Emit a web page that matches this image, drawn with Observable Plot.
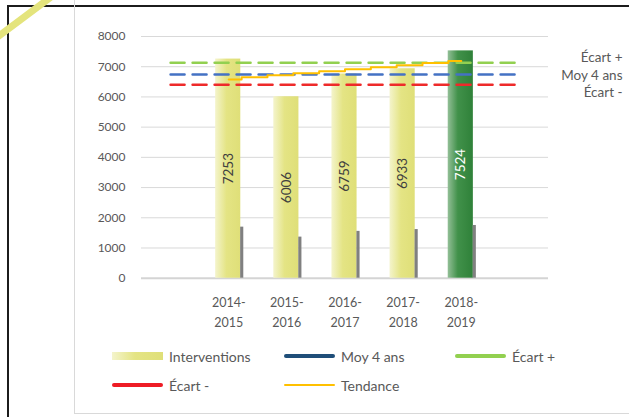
<!DOCTYPE html>
<html><head><meta charset="utf-8">
<script src="https://cdn.jsdelivr.net/npm/d3@7"></script>
<script src="https://cdn.jsdelivr.net/npm/@observablehq/plot@0.6"></script>
<style>
body{margin:0;background:#fff;}
#wrap{position:relative;width:629px;height:417px;overflow:hidden;background:#fff;font-family:Lato,sans-serif;}
#outer{position:absolute;left:7px;top:5px;width:700px;height:500px;border:2px solid #1c1c1c;box-sizing:border-box;}
#inner{position:absolute;left:74px;top:0;width:700px;height:414px;border-left:1.5px solid #d9d9d9;border-bottom:1.5px solid #d9d9d9;box-sizing:border-box;}
#chart{position:absolute;left:0;top:0;}
#legend{position:absolute;left:0;top:340px;width:629px;height:77px;}
#legend .it{position:absolute;height:20px;display:flex;align-items:center;font-size:14px;color:#595959;white-space:nowrap;}
#legend .sw{width:51px;margin-right:6px;border-radius:2px;}
#deco{position:absolute;left:0;top:0;pointer-events:none;}
</style>
</head><body>
<div id="wrap">
  <div id="outer"></div>
  <div id="inner"></div>
  <div id="chart"></div>
  <div id="legend"></div>
  <svg id="deco" width="629" height="417"><line x1="-6" y1="39.5" x2="53" y2="-4.5" stroke="#e4e47c" stroke-width="7"/></svg>
</div>
<script>
// ---- data ----
const categories = ["", "2014-2015", "2015-2016", "2016-2017", "2017-2018", "2018-2019", ""];
const interventions = [7253, 6006, 6759, 6933, 7524];
const secondaire = [1690, 1360, 1550, 1610, 1745];
const moy4ans = 6740;
const ecartPlus = 7130;
const ecartMoins = 6400;
const tendance = [6580, 6650, 6715, 6780, 6850, 6915, 6985, 7050, 7120, 7185];
const yTicks = [0, 1000, 2000, 3000, 4000, 5000, 6000, 7000, 8000];
const seriesNames = ["Écart +", "Moy 4 ans", "Écart -"];

// ---- tables ----
const bars = interventions.map((v, i) => ({slot: i + 1, cat: categories[i + 1], v, s: secondaire[i], last: i === interventions.length - 1}));
const refs = categories.map((c, slot) => ({slot, plus: ecartPlus, moy: moy4ans, moins: ecartMoins}));
const trendPts = tendance.map((v, j) => ({x: 1 + j * (interventions.length - 1) / (tendance.length - 1), v}));

const x1 = d => d.slot - 0.5, x2 = d => d.slot + 0.5;
const lbl = (name, v, dy) => Plot.text([{name, v}], {y: "v", text: "name", frameAnchor: "right", textAnchor: "end", dx: 74, dy, fontSize: 13.5, fill: "#595959"});

const plot = Plot.plot({
  width: 629, height: 340,
  marginLeft: 141, marginRight: 81, marginTop: 36, marginBottom: 62.3,
  style: {background: "transparent", color: "#595959", fontFamily: "Lato, sans-serif", fontSize: "12px"},
  x: {domain: [-0.5, categories.length - 0.5], axis: null},
  y: {domain: [0, 8000], axis: null},
  marks: [
    Plot.ruleY(yTicks.filter(t => t > 0), {stroke: "#d9d9d9", strokeWidth: 1}),
    Plot.ruleY([0], {stroke: "#d4d4d4", strokeWidth: 2}),
    Plot.axisY(yTicks, {tickSize: 0, tickPadding: 16, fontSize: 12, label: null, fill: "#595959", tickFormat: "d"}),
    Plot.rectY(bars.filter(d => !d.last), {x1, x2, y1: 0, y2: "v", insetLeft: 16, insetRight: 17, fill: "url(#gYellow)"}),
    Plot.rectY(bars.filter(d => d.last), {x1, x2, y1: 0, y2: "v", insetLeft: 16, insetRight: 17, fill: "url(#gGreen)"}),
    Plot.rectY(bars, {x1, x2, y1: 0, y2: "s", insetLeft: 41, insetRight: 14, fill: "#808080"}),
    Plot.lineY(refs, {x: "slot", y: "plus", stroke: "#92D050", strokeWidth: 2.5, strokeDasharray: "14,8"}),
    Plot.lineY(refs, {x: "slot", y: "moy", stroke: "#4472C4", strokeWidth: 2.5, strokeDasharray: "14,8"}),
    Plot.lineY(refs, {x: "slot", y: "moins", stroke: "#EE2A2A", strokeWidth: 2.5, strokeDasharray: "14,8"}),
    Plot.line(trendPts, {x: "x", y: "v", curve: "step", stroke: "#FFC000", strokeWidth: 2}),
    Plot.text(bars, {x: "slot", y: d => d.v / 2, text: d => String(d.v), rotate: -90, dx: -0.5, fontSize: 13.5, fill: d => d.last ? "#ffffff" : "#404040"}),
    Plot.text(bars, {x: "slot", y: 0, text: d => d.cat.replace("-", "-\n"), dy: 32.5, lineHeight: 1.6, fontSize: 12.5, fill: "#595959"}),
    lbl(seriesNames[0], ecartPlus, -5),
    lbl(seriesNames[1], moy4ans, 1),
    lbl(seriesNames[2], ecartMoins, 7.5)
  ]
});

// gradients
const svg = d3.select(plot);
const defs = svg.insert("defs", ":first-child");
const gy = defs.append("linearGradient").attr("id", "gYellow").attr("x1", 0).attr("x2", 1).attr("y1", 0).attr("y2", 0);
gy.append("stop").attr("offset", "0%").attr("stop-color", "#f4f4cc");
gy.append("stop").attr("offset", "45%").attr("stop-color", "#e4e484");
gy.append("stop").attr("offset", "100%").attr("stop-color", "#dfdf78");
const gg = defs.append("linearGradient").attr("id", "gGreen").attr("x1", 0).attr("x2", 1).attr("y1", 0).attr("y2", 0);
gg.append("stop").attr("offset", "0%").attr("stop-color", "#93bf97");
gg.append("stop").attr("offset", "40%").attr("stop-color", "#41914a");
gg.append("stop").attr("offset", "100%").attr("stop-color", "#2f8139");
document.getElementById("chart").appendChild(plot);

// legend
const legendItems = [
  {label: "Interventions", kind: "rect", color: "linear-gradient(to right,#f4f4cc,#e4e484 45%,#dfdf78)", row: 0, col: 0},
  {label: "Moy 4 ans", kind: "line", color: "#1F4E79", w: 4, row: 0, col: 1},
  {label: "Écart +", kind: "line", color: "#92D050", w: 4, row: 0, col: 2},
  {label: "Écart -", kind: "line", color: "#EE1C25", w: 4, row: 1, col: 0},
  {label: "Tendance", kind: "line", color: "#FFC000", w: 2, row: 1, col: 1}
];
const colX = [112, 284, 455], rowY = [6, 35];
const leg = document.getElementById("legend");
legendItems.forEach(it => {
  const d = document.createElement("div");
  d.className = "it";
  d.style.left = colX[it.col] + "px";
  d.style.top = rowY[it.row] + "px";
  const sw = document.createElement("span");
  sw.className = "sw";
  if (it.kind === "rect") { sw.style.height = "8px"; sw.style.background = it.color; sw.style.borderRadius = "0"; }
  else { sw.style.height = it.w + "px"; sw.style.background = it.color; }
  d.appendChild(sw);
  const t = document.createElement("span");
  t.textContent = it.label;
  d.appendChild(t);
  leg.appendChild(d);
});
</script>
</body></html>
